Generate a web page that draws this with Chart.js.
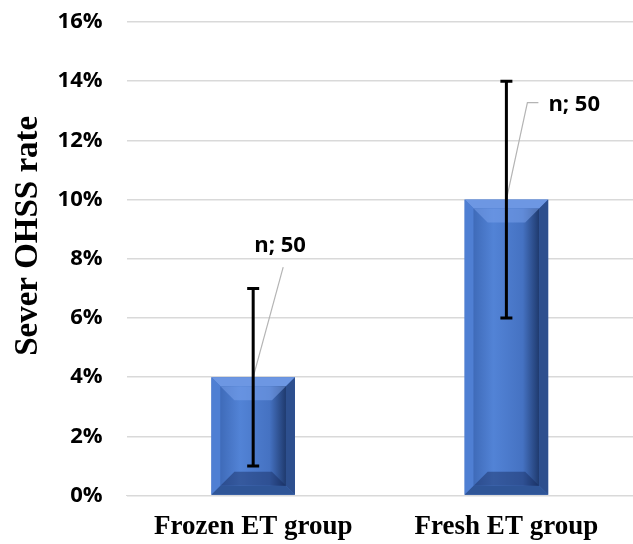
<!DOCTYPE html>
<html>
<head>
<meta charset="utf-8">
<script src="https://cdn.jsdelivr.net/npm/chart.js@4/dist/chart.umd.min.js"></script>
<style>
  body { margin: 0; background: #fff; }
  canvas { display: block; }
</style>
</head>
<body>
<canvas id="ohssChart" width="633" height="544"></canvas>
<script>
// Data
const groups = ["Frozen ET group", "Fresh ET group"];
const rates = [0.04, 0.10];
const errLow = [0.01, 0.06];
const errHigh = [0.07, 0.14];
const nLabels = ["n; 50", "n; 50"];
const yTitle = "Sever OHSS rate";

// label placement (pixels, relative to bar top centre)
const labelSpots = [
  { line: [[30, -110]], text: [1, -131], align: "left" },
  { line: [[21, -97], [32, -97]], text: [42, -95], align: "left" }
];

const ctx = document.getElementById("ohssChart").getContext("2d");

// Bevelled bars
const bevelBars = {
  id: "bevelBars",
  afterDatasetsDraw(chart) {
    const c = chart.ctx;
    const meta = chart.getDatasetMeta(0);
    meta.data.forEach(bar => {
      const l = bar.x - bar.width / 2, r = bar.x + bar.width / 2;
      const t = bar.y, b = bar.base;
      const bw = 9;
      c.save();
      // outer
      c.fillStyle = "#4472c4";
      c.fillRect(l, t, r - l, b - t);
      // top bevel
      c.fillStyle = "#6d97e3";
      c.beginPath();
      c.moveTo(l, t); c.lineTo(r, t); c.lineTo(r - bw, t + bw); c.lineTo(l + bw, t + bw); c.closePath(); c.fill();
      // left bevel
      c.fillStyle = "#4f7fd3";
      c.beginPath();
      c.moveTo(l, t); c.lineTo(l + bw, t + bw); c.lineTo(l + bw, b - bw); c.lineTo(l, b); c.closePath(); c.fill();
      // right bevel
      c.fillStyle = "#2d4f8e";
      c.beginPath();
      c.moveTo(r, t); c.lineTo(r - bw, t + bw); c.lineTo(r - bw, b - bw); c.lineTo(r, b); c.closePath(); c.fill();
      // bottom bevel
      c.fillStyle = "#2f5597";
      c.beginPath();
      c.moveTo(l, b); c.lineTo(r, b); c.lineTo(r - bw, b - bw); c.lineTo(l + bw, b - bw); c.closePath(); c.fill();
      // inner face
      const g = c.createLinearGradient(l + bw, 0, r - bw, 0);
      g.addColorStop(0, "#3f6bb9");
      g.addColorStop(0.3, "#5283d6");
      g.addColorStop(0.75, "#4572c2");
      g.addColorStop(1, "#1f3a6e");
      c.fillStyle = g;
      c.fillRect(l + bw, t + bw, r - l - 2 * bw, b - t - 2 * bw);
      // inner top/bottom shading
      const iw = 14;
      c.fillStyle = "rgba(120,160,235,0.55)";
      c.beginPath();
      c.moveTo(l + bw, t + bw); c.lineTo(r - bw, t + bw); c.lineTo(r - bw - iw, t + bw + iw); c.lineTo(l + bw + iw, t + bw + iw); c.closePath(); c.fill();
      c.fillStyle = "rgba(20,40,90,0.45)";
      c.beginPath();
      c.moveTo(l + bw, b - bw); c.lineTo(r - bw, b - bw); c.lineTo(r - bw - iw, b - bw - iw); c.lineTo(l + bw + iw, b - bw - iw); c.closePath(); c.fill();
      c.restore();
    });
  }
};

// Error bars + n labels + axis title
const extras = {
  id: "extras",
  afterDatasetsDraw(chart) {
    const c = chart.ctx;
    const y = chart.scales.y;
    const meta = chart.getDatasetMeta(0);
    meta.data.forEach((bar, i) => {
      // leader line
      const spot = labelSpots[i];
      c.save();
      c.strokeStyle = "#b4b4b4";
      c.lineWidth = 1.2;
      c.beginPath();
      c.moveTo(bar.x, bar.y);
      spot.line.forEach(p => c.lineTo(bar.x + p[0], bar.y + p[1]));
      c.stroke();
      c.fillStyle = "#000";
      c.font = "bold 22px 'Open Sans'";
      c.textAlign = spot.align;
      c.textBaseline = "middle";
      c.fillText(nLabels[i], bar.x + spot.text[0], bar.y + spot.text[1]);

      // error bar
      const yLo = y.getPixelForValue(errLow[i]);
      const yHi = y.getPixelForValue(errHigh[i]);
      c.strokeStyle = "#000";
      c.lineWidth = 3;
      c.beginPath();
      c.moveTo(bar.x, yLo); c.lineTo(bar.x, yHi);
      c.moveTo(bar.x - 6, yLo); c.lineTo(bar.x + 6, yLo);
      c.moveTo(bar.x - 6, yHi); c.lineTo(bar.x + 6, yHi);
      c.stroke();
      c.restore();
    });

    // y title sits a bit above the plot centre in the original
    const area = chart.chartArea;
    c.save();
    c.translate(28, (area.top + area.bottom) / 2 - 23);
    c.rotate(-Math.PI / 2);
    c.fillStyle = "#000";
    c.font = "bold 33px 'Liberation Serif'";
    c.textAlign = "center";
    c.textBaseline = "middle";
    c.fillText(yTitle, 0, 0);
    c.restore();
  }
};

new Chart(ctx, {
  type: "bar",
  data: {
    labels: groups,
    datasets: [{
      data: rates,
      backgroundColor: "rgba(0,0,0,0)",
      categoryPercentage: 1,
      barPercentage: 0.33
    }]
  },
  options: {
    responsive: false,
    animation: false,
    layout: { padding: { top: 0, right: 0, bottom: -14, left: 0 } },
    plugins: {
      legend: { display: false },
      tooltip: { enabled: false }
    },
    scales: {
      x: {
        grid: { display: false, drawTicks: false },
        border: { display: true, color: "#d9d9d9" },
        ticks: {
          color: "#000",
          padding: 15,
          font: { family: "'Liberation Serif'", weight: "bold", size: 27 }
        }
      },
      y: {
        min: 0,
        max: 0.16,
        // tick padding gets added to the top gap, pin it back
        afterFit: s => { s.paddingTop = 22; s.paddingBottom = 0; },
        ticks: {
          stepSize: 0.02,
          color: "#000",
          padding: 24,
          font: { family: "'Open Sans'", weight: "bold", size: 22 },
          callback: v => Math.round(v * 100) + "%"
        },
        grid: { color: "#d9d9d9", lineWidth: 1.5, drawTicks: false },
        border: { display: false },
        title: {
          // keeps the space; the text itself is drawn in the plugin
          display: true,
          text: yTitle,
          color: "rgba(0,0,0,0)",
          padding: { top: 8, bottom: -14 },
          font: { family: "'Liberation Serif'", weight: "bold", size: 33 }
        }
      }
    }
  },
  plugins: [bevelBars, extras]
});
</script>
</body>
</html>
